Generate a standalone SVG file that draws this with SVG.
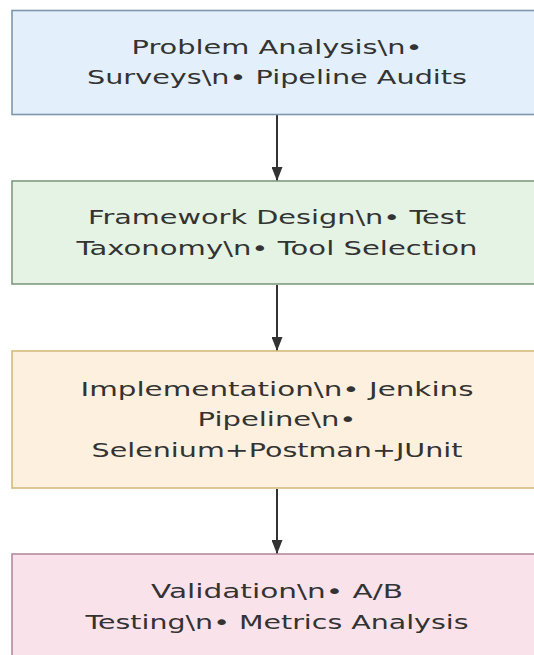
<svg xmlns="http://www.w3.org/2000/svg" width="534" height="655" viewBox="0 0 534 655">
<defs>
<marker id="ah" markerWidth="14" markerHeight="11" refX="14" refY="5.5" orient="auto" markerUnits="userSpaceOnUse">
<path d="M0,0 L14,5.5 L0,11 Z" fill="#333"/>
</marker>
<style>
.lbl{font-family:"DejaVu Sans","Liberation Sans",sans-serif;font-size:19px;fill:#333;text-anchor:middle}
.box{stroke-width:1.6}
.edge{stroke:#333;stroke-width:2;fill:none}
</style>
</defs>
<rect width="534" height="655" fill="#ffffff"/>
<g id="connectors">
<line class="edge" x1="277" y1="115" x2="277" y2="181" marker-end="url(#ah)"/>
<line class="edge" x1="277" y1="285" x2="277" y2="351" marker-end="url(#ah)"/>
<line class="edge" x1="277" y1="489" x2="277" y2="554" marker-end="url(#ah)"/>
</g>
<g id="node1">
<rect class="box" x="12" y="10.5" width="540" height="104" fill="#e3f0fb" stroke="#7d97ad"/>
<text class="lbl" x="277" y="53.5" textLength="291" lengthAdjust="spacingAndGlyphs">Problem Analysis\n•</text>
<text class="lbl" x="277" y="83.5" textLength="380" lengthAdjust="spacingAndGlyphs">Surveys\n• Pipeline Audits</text>
</g>
<g id="node2">
<rect class="box" x="12" y="181" width="540" height="103" fill="#e5f3e4" stroke="#7f9a80"/>
<text class="lbl" x="277" y="224" textLength="378" lengthAdjust="spacingAndGlyphs">Framework Design\n• Test</text>
<text class="lbl" x="277" y="254.5" textLength="401" lengthAdjust="spacingAndGlyphs">Taxonomy\n• Tool Selection</text>
</g>
<g id="node3">
<rect class="box" x="12" y="351" width="540" height="137" fill="#fdf0de" stroke="#d3bb7c"/>
<text class="lbl" x="277" y="395.5" textLength="393" lengthAdjust="spacingAndGlyphs">Implementation\n• Jenkins</text>
<text class="lbl" x="277" y="426" textLength="159" lengthAdjust="spacingAndGlyphs">Pipeline\n•</text>
<text class="lbl" x="277" y="456.5" textLength="371" lengthAdjust="spacingAndGlyphs">Selenium+Postman+JUnit</text>
</g>
<g id="node4">
<rect class="box" x="12" y="554" width="540" height="110" fill="#fae2eb" stroke="#b58aa0"/>
<text class="lbl" x="277" y="598" textLength="252" lengthAdjust="spacingAndGlyphs">Validation\n• A/B</text>
<text class="lbl" x="277" y="628.5" textLength="383" lengthAdjust="spacingAndGlyphs">Testing\n• Metrics Analysis</text>
</g>
</svg>
